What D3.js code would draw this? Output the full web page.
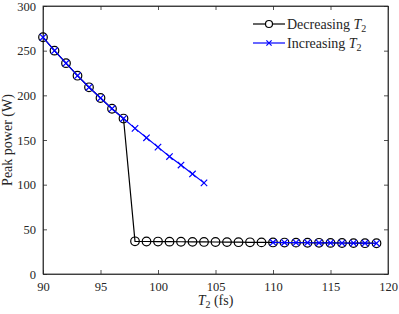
<!DOCTYPE html>
<html>
<head>
<meta charset="utf-8">
<script src="https://cdn.jsdelivr.net/npm/d3@7"></script>
<style>
  body { margin: 0; background: #fff; }
  text { font-family: "Liberation Serif", "DejaVu Serif", serif; fill: #262626; }
</style>
</head>
<body>
<svg id="chart"></svg>
<script>
// T2 (fs) values, decreasing sweep
const decT2 = [90, 91, 92, 93, 94, 95, 96, 97, 98, 99, 100, 101, 102, 103, 104,
  105, 106, 107, 108, 109, 110, 111, 112, 113, 114, 115, 116, 117, 118, 119]
const decPower = [265, 250, 236, 222, 209, 197, 185, 174, 36.6, 36.4, 36.3, 36.2, 36.1, 36.0, 35.9,
  35.8, 35.7, 35.6, 35.5, 35.4, 35.3, 35.2, 35.1, 35.0, 34.9, 34.8, 34.7, 34.6, 34.5, 34.4]
// increasing sweep (gap between 104 and 110)
const incT2 = [90, 91, 92, 93, 94, 95, 96, 97, 98, 99, 100, 101, 102, 103, 104,
  105, 106, 107, 108, 109, 110, 111, 112, 113, 114, 115, 116, 117, 118, 119]
const incPower = [265, 250, 236, 222, 209, 197, 185, 174, 163, 152.5, 142, 131.5, 122, 112, 102,
  null, null, null, null, null, 35.3, 35.2, 35.1, 35.0, 34.9, 34.8, 34.7, 34.6, 34.5, 34.4]
const xTicks = [90, 95, 100, 105, 110, 115, 120]
const yTicks = [0, 50, 100, 150, 200, 250, 300]

const W = 399, H = 314
const margin = {top: 6, right: 11, bottom: 40, left: 43}
const width = W - margin.left - margin.right
const height = H - margin.top - margin.bottom
const axisColor = "#262626"

const svg = d3.select("#chart").attr("width", W).attr("height", H)
const g = svg.append("g").attr("transform", `translate(${margin.left},${margin.top})`)

const x = d3.scaleLinear().domain([90, 120]).range([0, width])
const y = d3.scaleLinear().domain([0, 300]).range([height, 0])

// axes, ticks inward on all four sides
const tl = 4
g.append("g").attr("transform", `translate(0,${height})`)
  .call(d3.axisBottom(x).tickValues(xTicks).tickSizeInner(-tl).tickSizeOuter(0).tickPadding(8))
g.append("g")
  .call(d3.axisLeft(y).tickValues(yTicks).tickSizeInner(-tl).tickSizeOuter(0).tickPadding(7))
g.append("g")
  .call(d3.axisTop(x).tickValues(xTicks).tickSizeInner(-tl).tickSizeOuter(0).tickFormat(""))
g.append("g").attr("transform", `translate(${width},0)`)
  .call(d3.axisRight(y).tickValues(yTicks).tickSizeInner(-tl).tickSizeOuter(0).tickFormat(""))

g.selectAll(".domain").attr("stroke", axisColor).attr("stroke-width", 0.8)
g.selectAll(".tick line").attr("stroke", axisColor).attr("stroke-width", 0.8)
g.selectAll(".tick text").style("font-size", "12.5px").attr("fill", axisColor)

// full box
g.append("rect").attr("width", width).attr("height", height)
  .attr("fill", "none").attr("stroke", axisColor).attr("stroke-width", 0.8)

const decData = decT2.map((t, i) => ({x: t, y: decPower[i]}))
const incData = incT2.map((t, i) => ({x: t, y: incPower[i]}))

const line = d3.line().defined(d => d.y !== null).x(d => x(d.x)).y(d => y(d.y))

g.append("path").datum(decData)
  .attr("d", line).attr("fill", "none").attr("stroke", "#000").attr("stroke-width", 1.2)
g.selectAll(".decMark").data(decData).join("circle")
  .attr("class", "decMark")
  .attr("cx", d => x(d.x)).attr("cy", d => y(d.y)).attr("r", 4.3)
  .attr("fill", "none").attr("stroke", "#000").attr("stroke-width", 1.2)

g.append("path").datum(incData)
  .attr("d", line).attr("fill", "none").attr("stroke", "#0000ff").attr("stroke-width", 1.2)
const cross = (sel, s) => sel.append("path")
  .attr("d", `M${-s},${-s}L${s},${s}M${-s},${s}L${s},${-s}`)
  .attr("stroke", "#0000ff").attr("stroke-width", 1.2).attr("fill", "none")
g.selectAll(".incMark").data(incData.filter(d => d.y !== null)).join("g")
  .attr("class", "incMark")
  .attr("transform", d => `translate(${x(d.x)},${y(d.y)})`)
  .each(function () { cross(d3.select(this), 3.2) })

// axis labels
svg.append("text")
  .attr("x", margin.left + width / 2).attr("y", 305)
  .attr("text-anchor", "middle").style("font-size", "14px")
  .html('<tspan font-style="italic">T</tspan><tspan font-size="10px" dy="3">2</tspan><tspan dy="-3"> (fs)</tspan>')

svg.append("text")
  .attr("transform", `translate(12,${margin.top + height / 2}) rotate(-90)`)
  .attr("text-anchor", "middle").style("font-size", "14px")
  .text("Peak power (W)")

// legend
const legend = svg.append("g").attr("transform", "translate(253,24)")
const items = [
  {name: "Decreasing ", color: "#000", mark: "circle"},
  {name: "Increasing ", color: "#0000ff", mark: "cross"}
]
items.forEach((it, i) => {
  const row = legend.append("g").attr("transform", `translate(0,${i * 19})`)
  row.append("line").attr("x1", 0).attr("x2", 32).attr("stroke", it.color).attr("stroke-width", 1.2)
  if (it.mark === "circle") {
    row.append("circle").attr("cx", 16).attr("r", 3.5)
      .attr("fill", "#fff").attr("stroke", it.color).attr("stroke-width", 1.2)
  } else {
    cross(row.append("g").attr("transform", "translate(16,0)"), 2.6)
  }
  row.append("text").attr("x", 34).attr("y", 4.5).style("font-size", "14px")
    .html(`${it.name}<tspan font-style="italic">T</tspan><tspan font-size="10px" dy="3">2</tspan>`)
})
</script>
</body>
</html>
